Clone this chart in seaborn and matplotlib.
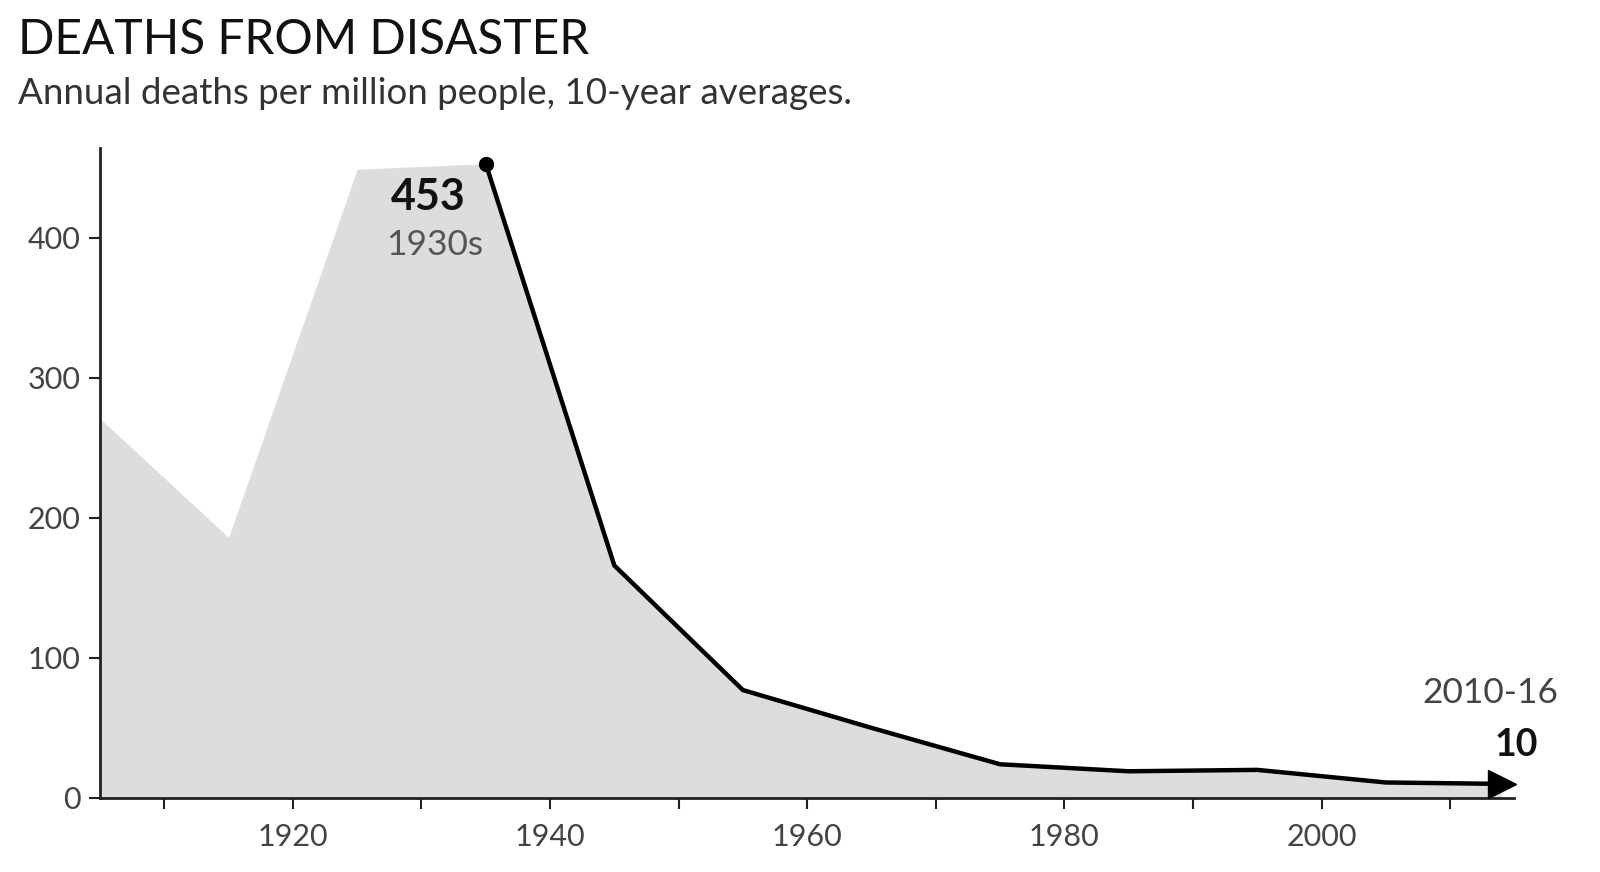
import numpy as np
import pandas as pd
import seaborn as sns
import matplotlib.pyplot as plt

# decade midpoints and annual deaths per million (10-year averages)
years = [1905, 1915, 1925, 1935, 1945, 1955, 1965, 1975, 1985, 1995, 2005, 2014]
deaths = [271, 186, 449, 453, 166, 77, 50, 24, 19, 20, 11, 10]
line_start = 1935

df = pd.DataFrame({"year": years, "deaths": deaths})
df_line = df[df["year"] >= line_start]

sns.set_style("ticks")
plt.rcParams["font.family"] = ["Lato", "DejaVu Sans"]

fig = plt.figure(figsize=(16, 8.72), dpi=100)
ax = fig.add_axes([0.0625, 0.085, 0.884, 0.745])

ax.fill_between(df["year"], df["deaths"], 0, color="#dddddd", lw=0, zorder=1)
sns.lineplot(data=df_line, x="year", y="deaths", color="black", lw=3.2, ax=ax, zorder=3)

# start dot and end arrow
first = df_line.iloc[0]
last = df_line.iloc[-1]
ax.plot(first["year"], first["deaths"], "o", color="black", ms=10, zorder=4)
ax.plot(last["year"], last["deaths"], ">", color="black", ms=20, zorder=4, clip_on=False)

ax.set_xlim(1905, 2015)
ax.set_ylim(0, 464)
ax.set_xticks(range(1920, 2001, 20))
ax.set_xticks(range(1910, 2011, 20), minor=True)
ax.set_yticks(range(0, 401, 100))
ax.tick_params(axis="both", which="both", length=8, width=1.5, color="#222222",
               labelsize=22, labelcolor="#444444")
ax.tick_params(axis="x", pad=10)
ax.tick_params(axis="y", pad=6)
ax.set_xlabel("")
ax.set_ylabel("")
sns.despine(ax=ax)
for s in ["left", "bottom"]:
    ax.spines[s].set_linewidth(2)
    ax.spines[s].set_color("#222222")

ax.text(1930.5, 429, "453", ha="center", va="center", fontsize=31, fontweight="bold", color="#111111")
ax.text(1931, 395, "1930s", ha="center", va="center", fontsize=25.5, color="#555555")
ax.text(1558 / 1600, (872 - 693) / 872, "2010-16", transform=fig.transFigure,
        ha="right", va="center", fontsize=25.5, color="#444444")
ax.text(1538 / 1600, (872 - 745) / 872, "10", transform=fig.transFigure,
        ha="right", va="center", fontsize=27, fontweight="bold", color="#111111")

fig.text(18 / 1600, (872 - 40) / 872, "DEATHS FROM DISASTER", ha="left", va="center",
         fontsize=34.5, color="#111111")
fig.text(18 / 1600, (872 - 93) / 872, "Annual deaths per million people, 10-year averages.",
         ha="left", va="center", fontsize=26.5, color="#333333")

fig.savefig("out.png", dpi=100)
